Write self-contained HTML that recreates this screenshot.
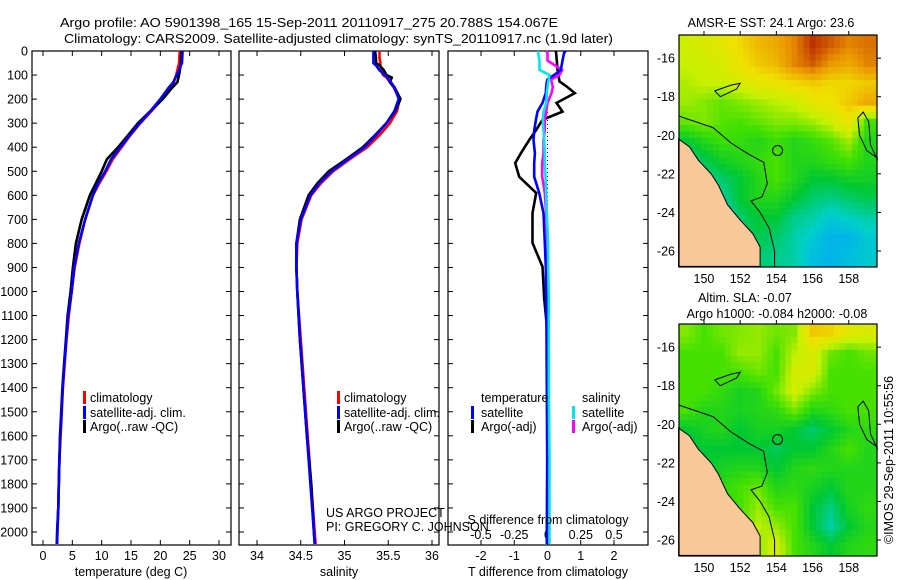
<!DOCTYPE html>
<html><head><meta charset="utf-8"><style>
html,body{margin:0;padding:0;background:#fff;}
svg{display:block;font-family:"Liberation Sans",sans-serif;}
text{font-size:12.5px;fill:#000;}
</style></head><body>
<svg id="chart" width="900" height="580" viewBox="0 0 900 580" xmlns="http://www.w3.org/2000/svg">
<text x="60" y="27" textLength="498" lengthAdjust="spacingAndGlyphs">Argo profile: AO 5901398_165 15-Sep-2011 20110917_275 20.788S 154.067E</text>
<text x="64" y="43" textLength="549" lengthAdjust="spacingAndGlyphs">Climatology: CARS2009. Satellite-adjusted climatology: synTS_20110917.nc (1.9d later)</text>
</svg>
<script>
// ---------- data ----------
const depthTS = [0,50,100,130,150,200,250,300,350,400,450,500,550,600,700,800,900,1000,1100,1200,1300,1400,1500,1600,1700,1800,1900,2000,2050];
const tempArgo = [23.6,23.5,23.2,22.9,22.1,20.4,18.3,16.2,14.5,12.8,10.9,10.0,9.0,8.0,6.6,5.6,5.1,4.7,4.2,3.9,3.6,3.3,3.1,2.9,2.8,2.7,2.6,2.4,2.35];
const tempClim = [23.3,23.2,22.7,22.3,21.8,20.3,18.5,16.6,14.9,13.4,11.9,10.8,9.6,8.5,7.2,6.2,5.4,4.9,4.4,4.0,3.7,3.4,3.2,3.0,2.8,2.7,2.6,2.45,2.4];
const tempSat = [23.8,23.7,22.8,22.2,21.5,20.0,18.3,16.5,14.8,13.2,11.6,10.6,9.4,8.5,7.2,6.1,5.3,4.9,4.3,3.95,3.65,3.35,3.15,2.95,2.8,2.7,2.6,2.45,2.4];
const depthSal = [0,30,50,60,80,100,110,130,150,200,250,300,350,400,450,500,550,600,700,800,900,1000,1200,1400,1600,1800,2000,2050];
const salArgo = [35.35,35.36,35.36,35.40,35.45,35.48,35.54,35.52,35.57,35.64,35.58,35.48,35.35,35.21,35.02,34.82,34.69,34.59,34.49,34.45,34.45,34.46,34.49,34.53,34.57,34.62,34.65,34.66];
const salClim = [35.40,35.40,35.41,35.41,35.42,35.44,35.48,35.52,35.56,35.63,35.60,35.52,35.40,35.26,35.06,34.87,34.73,34.62,34.51,34.46,34.45,34.46,34.50,34.54,34.58,34.62,34.66,34.67];
const salSat = [35.33,35.33,35.33,35.36,35.40,35.46,35.49,35.53,35.57,35.62,35.57,35.48,35.36,35.23,35.04,34.85,34.71,34.61,34.50,34.45,34.45,34.46,34.49,34.53,34.57,34.61,34.65,34.66];
const depthDiff = [0,8,40,79,100,118,127,150,175,216,252,286,330,370,425,466,523,590,674,798,897,1030,1170,1400,1700,2000,2050];
const dTArgo = [0.25,0.26,0.28,0.3,0.33,0.35,0.36,0.6,0.82,0.27,0.45,-0.15,-0.35,-0.55,-0.8,-0.97,-0.85,-0.34,-0.45,-0.45,-0.15,-0.1,0,0.03,0.05,0.05,0.05];
const dTSat = [0.55,0.5,0.45,0.4,0.2,0,-0.02,-0.04,-0.05,-0.15,-0.3,-0.35,-0.4,-0.42,-0.38,-0.4,-0.4,-0.25,-0.12,-0.08,-0.05,-0.04,-0.03,-0.02,-0.01,-0.02,-0.02];
const dSArgo = [-0.01,0,0,0.11,0.09,0.03,0.03,0.04,0.03,0,-0.01,-0.02,-0.02,-0.03,-0.03,-0.04,-0.04,-0.02,-0.01,0,0,0,0.005,0.01,0.01,0.01,0.01];
const dSSat = [-0.07,-0.07,-0.06,-0.06,0.015,0.01,0.005,0,-0.005,-0.01,-0.03,-0.035,-0.03,-0.025,-0.02,-0.02,-0.015,-0.01,-0.005,0.005,0.005,0.01,0.01,0.01,0.015,0.015,0.015];
const depthTicks = [0,100,200,300,400,500,600,700,800,900,1000,1100,1200,1300,1400,1500,1600,1700,1800,1900,2000];
const tempTicks = [0,5,10,15,20,25,30];
const salTicks = [34,34.5,35,35.5,36];
const dTTicks = [-2,-1,0,1,2];
const dSTicks = [-0.5,-0.25,0,0.25,0.5];
const dSTickLabels = ["-0.5","-0.25","0","0.25","0.5"];
const mapLons = [149,150,151,152,153,154,155,156,157,158,159];
const mapLats = [-15.3,-16.3,-17.3,-18.3,-19.3,-20.3,-21.3,-22.3,-23.3,-24.3,-25.3,-26.3];
const lonTicks = [150,152,154,156,158];
const latTicks = [-16,-18,-20,-22,-24,-26];
const sstGrid = [
[25.4,25.6,25.8,26.2,26.6,26.8,27.2,28.0,27.6,27.2,27.4],
[25.3,25.4,25.6,26.0,26.4,26.6,27.2,27.6,27.0,26.8,27.2],
[25.1,25.3,25.3,25.6,25.8,26.0,26.2,26.4,26.2,26.2,26.4],
[25.0,24.8,24.6,24.8,25.0,25.2,25.4,25.8,26.0,26.4,26.8],
[24.6,24.8,24.5,24.4,24.6,24.8,24.8,25.0,25.4,26.0,24.4],
[23.6,24.0,24.3,24.2,24.0,24.3,24.0,24.2,24.5,25.0,24.0],
[22.8,23.4,23.8,24.0,24.2,24.4,24.0,24.0,24.2,24.4,24.0],
[22.4,22.8,23.2,23.6,24.0,24.4,24.0,23.6,23.6,23.8,23.8],
[22.4,22.4,22.8,23.6,24.0,24.0,23.6,23.2,23.0,23.2,23.4],
[22.0,22.4,22.4,23.2,23.6,23.6,23.0,22.8,22.4,22.6,22.8],
[22.0,22.0,22.0,23.2,23.4,23.2,22.8,22.4,22.0,22.0,22.4],
[22.0,22.0,22.0,22.8,23.2,23.0,22.8,22.2,22.0,22.2,22.4]];
const slaGrid = [
[0.06,0.03,0.05,0.06,0.07,0.05,0.06,0.18,0.17,0.13,0.12],
[0.03,0.03,0.03,0.07,0.07,0.03,0.09,0.12,0.05,0.03,0.05],
[0.03,0.03,0.03,0.03,0.05,0.03,0.11,0.12,0.03,0.03,0.03],
[0.03,0.03,0.01,-0.01,0.0,0.05,0.11,0.06,0.03,0.03,0.03],
[0.03,0.0,0.0,-0.01,0.0,0.01,0.05,0.0,0.01,0.03,0.03],
[-0.03,-0.01,0.0,-0.03,-0.01,-0.01,-0.03,-0.06,-0.03,0.0,0.01],
[-0.05,-0.03,-0.03,-0.03,-0.03,-0.05,-0.03,-0.03,0.0,0.03,0.0],
[-0.03,-0.03,-0.01,0.0,0.0,-0.03,0.0,0.01,0.0,0.0,0.0],
[0.0,0.0,0.01,0.03,0.05,0.0,0.01,-0.01,-0.03,0.0,0.0],
[0.0,0.0,0.0,0.03,0.07,0.03,0.03,-0.03,-0.07,-0.01,0.01],
[0.0,0.0,0.0,0.03,0.09,0.07,0.03,-0.03,-0.09,-0.03,0.0],
[0.0,0.0,0.0,0.06,0.07,0.11,0.03,0.0,-0.03,0.0,0.01]];
const landLon = [148.6,149.2,149.7,150.4,150.8,151.3,152.0,152.7,153.1,153.1,148.6];
const landLat = [-20.2,-20.6,-21.3,-22.0,-22.6,-23.6,-24.4,-25.1,-25.8,-26.8,-26.8];
const shelfLon = [148.6,150.5,151.5,152.5,153.3,153.5,153.2,152.6,153.1,153.6,153.9,153.9];
const shelfLat = [-19.0,-19.6,-20.4,-21.0,-21.4,-22.5,-23.2,-23.4,-24.0,-24.8,-26.0,-26.8];
const reefLon = [159.6,159.0,158.6,158.5,158.8,159.1,159.2,159.6];
const reefLat = [-21.2,-20.8,-20.0,-19.1,-18.8,-19.3,-20.5,-21.3];
const islandLon = [150.6,151.5,152.0,151.8,150.9,150.6];
const islandLat = [-17.7,-17.4,-17.3,-17.6,-18.0,-17.7];

// ---------- helpers ----------
const svg = document.getElementById('chart');
const NS = 'http://www.w3.org/2000/svg';
function mk(tag, attrs, parent){const e=document.createElementNS(NS,tag);for(const k in attrs)e.setAttribute(k,attrs[k]);(parent||svg).appendChild(e);return e;}
const PT = 51, PB = 545;
function yDepth(d){return PT + d*0.2405;}
function lin(d0,d1,r0,r1){return v=>r0+(v-d0)*(r1-r0)/(d1-d0);}
const xTemp = lin(0,30,43,219);
const xSal = lin(34,36,257,432);
const xDT = lin(-2,2,481,614);
const xDS = lin(-0.5,0.5,481,614);

function frame(x0,x1,name){
  const r = mk('rect',{x:x0,y:PT,width:x1-x0,height:PB-PT,fill:'none',stroke:'#000','stroke-width':1.2});
  
  
  depthTicks.forEach(d=>{
    const y=yDepth(d);
    const t1=mk('line',{x1:x0,x2:x0+5,y1:y,y2:y,stroke:'#000'});
    
    
    const t2=mk('line',{x1:x1-5,x2:x1,y1:y,y2:y,stroke:'#000'});
    
    
  });
}
function xticks(vals,labels,sc,name,ly){
  vals.forEach((v,i)=>{
    const x=sc(v);
    const a=mk('line',{x1:x,x2:x,y1:PT,y2:PT+5,stroke:'#000'});
    
    
    const b=mk('line',{x1:x,x2:x,y1:PB-5,y2:PB,stroke:'#000'});
    
    
    const t=mk('text',{x:x,y:ly,'text-anchor':'middle'});
    t.textContent=labels[i];
    
    
  });
}
function series(xs,ds,sc,color,name,w){
  const pts=xs.map((v,i)=>sc(v).toFixed(1)+','+yDepth(ds[i]).toFixed(1)).join(' ');
  const p=mk('polyline',{points:pts,fill:'none',stroke:color,'stroke-width':w||2.6,'stroke-linejoin':'miter'});
  
  
}
function label(x,y,txt,name,anchor){
  const t=mk('text',{x:x,y:y,'text-anchor':anchor||'start'});
  t.textContent=txt;
  
  
  return t;
}
function legendBar(x,y,color,name){
  const r=mk('rect',{x:x,y:y-6,width:3,height:13,fill:color});
  
  
}

depthTicks.forEach(d=>{
  const t=mk('text',{x:28,y:yDepth(d)+4.5,'text-anchor':'end'});
  t.textContent=String(d);
  
  
});

// ---------- panel 1 temperature ----------
frame(32,231,'temperature-panel-frame');
xticks(tempTicks,tempTicks.map(String),xTemp,'temperature',560);
label(131,576,'temperature (deg C)','temperature-axis-title','middle');
series(tempClim,depthTS,xTemp,'#ff0000','temperature-climatology-line');
series(tempArgo,depthTS,xTemp,'#000000','temperature-argo-line');
series(tempSat,depthTS,xTemp,'#0000ff','temperature-satellite-line');
legendBar(83,397,'#ff0000','legend-climatology-swatch'); label(90,402,'climatology','legend-climatology-label');
legendBar(83,412,'#0000ff','legend-satellite-swatch'); label(90,417,'satellite-adj. clim.','legend-satellite-label');
legendBar(83,426,'#000000','legend-argo-swatch'); label(90,431,'Argo(..raw -QC)','legend-argo-label');

// ---------- panel 2 salinity ----------
frame(239,439,'salinity-panel-frame');
xticks(salTicks,salTicks.map(String),xSal,'salinity',560);
label(339,576,'salinity','salinity-axis-title','middle');
series(salClim,depthSal,xSal,'#ff0000','salinity-climatology-line');
series(salArgo,depthSal,xSal,'#000000','salinity-argo-line');
series(salSat,depthSal,xSal,'#0000ff','salinity-satellite-line');
legendBar(337,397,'#ff0000','legend2-climatology-swatch'); label(344,402,'climatology','legend2-climatology-label');
legendBar(337,412,'#0000ff','legend2-satellite-swatch'); label(344,417,'satellite-adj. clim.','legend2-satellite-label');
legendBar(337,426,'#000000','legend2-argo-swatch'); label(344,431,'Argo(..raw -QC)','legend2-argo-label');

// ---------- panel 3 differences ----------
frame(448,648,'difference-panel-frame');
const zl=mk('line',{x1:xDT(0),x2:xDT(0),y1:yDepth(120),y2:PB,stroke:'#000','stroke-dasharray':'1,3'});


xticks(dTTicks,dTTicks.map(String),xDT,'t-difference',560);
dSTicks.forEach((v,i)=>{
  const t=mk('text',{x:xDS(v),y:539,'text-anchor':'middle'});
  t.textContent=dSTickLabels[i];
  
  
});
series(dTArgo,depthDiff,xDT,'#000000','t-diff-argo-line');
series(dSArgo,depthDiff,xDS,'#ff00ff','s-diff-argo-line');
series(dTSat,depthDiff,xDT,'#0000ff','t-diff-satellite-line');
series(dSSat,depthDiff,xDS,'#00e8e8','s-diff-satellite-line');
label(481,402,'temperature','legend3-temperature-heading');
legendBar(471,412,'#0000ff','legend3-t-satellite-swatch'); label(481,417,'satellite','legend3-t-satellite-label');
legendBar(471,426,'#000000','legend3-t-argo-swatch'); label(481,431,'Argo(-adj)','legend3-t-argo-label');
label(582,402,'salinity','legend3-salinity-heading');
legendBar(572,412,'#00e8e8','legend3-s-satellite-swatch'); label(582,417,'satellite','legend3-s-satellite-label');
legendBar(572,426,'#ff00ff','legend3-s-argo-swatch'); label(582,431,'Argo(-adj)','legend3-s-argo-label');
label(548,524,'S difference from climatology','s-difference-axis-title','middle');
label(548,576,'T difference from climatology','t-difference-axis-title','middle');
label(326,517,'US ARGO PROJECT','project-credit-line1');
label(326,531,'PI: GREGORY C. JOHNSON','project-credit-line2');

// ---------- maps ----------
const cstops=[[0,[0,80,255]],[0.2,[0,160,255]],[0.32,[0,208,200]],[0.45,[0,200,50]],[0.55,[70,225,0]],[0.66,[200,240,0]],[0.76,[240,225,0]],[0.88,[235,150,0]],[1,[190,50,0]]];
function cmap(t){t=Math.max(0,Math.min(1,t));for(let i=1;i<cstops.length;i++){if(t<=cstops[i][0]){const a=cstops[i-1],b=cstops[i],f=(t-a[0])/(b[0]-a[0]);const c=a[1].map((v,k)=>Math.round(v+(b[1][k]-v)*f));return 'rgb('+c.join(',')+')';}}return 'rgb(190,50,0)';}
function sample(grid,fr,fc){
  fr=Math.max(0,Math.min(grid.length-1,fr));fc=Math.max(0,Math.min(grid[0].length-1,fc));
  const r0=Math.floor(fr),c0=Math.floor(fc),r1=Math.min(r0+1,grid.length-1),c1=Math.min(c0+1,grid[0].length-1);
  const a=fr-r0,b=fc-c0;
  return grid[r0][c0]*(1-a)*(1-b)+grid[r0][c1]*(1-a)*b+grid[r1][c0]*a*(1-b)+grid[r1][c1]*a*b;
}
function drawMap(top,grid,vmin,vmax,prefix){
  const L=679,R=877,B=top+232;
  const xl=lin(148.62,159.56,L,R);
  const yl=lin(-14.8,-26.83,top,B);
  const g=mk('g',{});
  
  
  const SUB=3, nr=grid.length, nc=grid[0].length;
  for(let ri=0;ri<nr*SUB;ri++){
    for(let ci=0;ci<nc*SUB;ci++){
      const lat0=mapLats[0]+0.5-ri/SUB, lon0=mapLons[0]-0.5+ci/SUB;
      const fr=(ri+0.5)/SUB-0.5, fc=(ci+0.5)/SUB-0.5;
      const v=sample(grid,fr,fc);
      const x0=Math.max(L,xl(lon0)),x1=Math.min(R,xl(lon0+1/SUB));
      const y0=Math.max(top,yl(lat0)),y1=Math.min(B,yl(lat0-1/SUB));
      if(x1<=x0||y1<=y0)continue;
      const c=mk('rect',{x:x0.toFixed(1),y:y0.toFixed(1),width:(x1-x0+0.6).toFixed(1),height:(y1-y0+0.6).toFixed(1),fill:cmap((v-vmin)/(vmax-vmin))},g);
      
      
    }
  }
  const pp=(lo,la)=>lo.map((v,i)=>xl(v).toFixed(1)+','+yl(la[i]).toFixed(1)).join(' ');
  const land=mk('polygon',{points:pp(landLon,landLat),fill:'#f8c898',stroke:'#000','stroke-width':1},g);
  
  
  const sh=mk('polyline',{points:pp(shelfLon,shelfLat),fill:'none',stroke:'#000','stroke-width':1},g);
  
  
  const rf=mk('polyline',{points:pp(reefLon,reefLat),fill:'none',stroke:'#000','stroke-width':1},g);
  
  
  const il=mk('polygon',{points:pp(islandLon,islandLat),fill:'none',stroke:'#000','stroke-width':1},g);
  
  
  const fl=mk('circle',{cx:xl(154.067),cy:yl(-20.788),r:5,fill:'none',stroke:'#000','stroke-width':1},g);
  
  
  const fr=mk('rect',{x:L,y:top,width:R-L,height:B-top,fill:'none',stroke:'#000','stroke-width':1.2});
  
  
  lonTicks.forEach(v=>{
    const x=xl(v);
    const a=mk('line',{x1:x,x2:x,y1:top-4,y2:top,stroke:'#000'});
    
    
    const t=mk('text',{x:x,y:B+16,'text-anchor':'middle'});
    t.textContent=String(v);
    
    
  });
  latTicks.forEach(v=>{
    const y=yl(v);
    const a=mk('line',{x1:R,x2:R+4,y1:y,y2:y,stroke:'#000'});
    
    
    const t=mk('text',{x:675,y:y+4.5,'text-anchor':'end'});
    t.textContent=String(v);
    
    
  });
}
drawMap(35,sstGrid,20,28,'sst');
drawMap(324,slaGrid,-0.3,0.3,'sla');
label(771,27,'AMSR-E SST: 24.1 Argo: 23.6','sst-map-title','middle');
label(745,302,'Altim. SLA: -0.07','sla-map-title','middle');
label(777,318,'Argo h1000: -0.084 h2000: -0.08','sla-map-subtitle','middle');
const cr=label(0,0,'©IMOS 29-Sep-2011 10:55:56','imos-credit','middle');
cr.setAttribute('transform','translate(893,460) rotate(-90)');
</script>
</body></html>
